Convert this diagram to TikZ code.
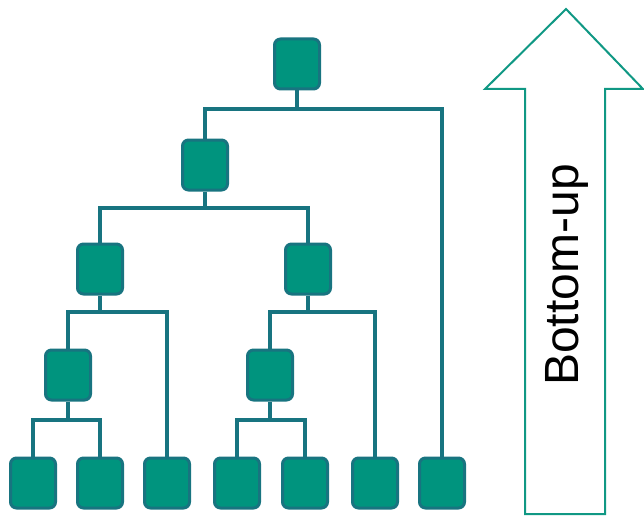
\documentclass[tikz,border=0pt]{standalone}
\usepackage{fontspec}
\setsansfont{Liberation Sans}
\usepackage{tikz}
\definecolor{boxfill}{RGB}{0,148,126}
\definecolor{linkcol}{RGB}{24,116,128}
\definecolor{arrowcol}{RGB}{16,152,132}

\begin{document}
\begin{tikzpicture}[x=1pt,y=-1pt,
	box/.style={draw=linkcol, line width=3pt, fill=boxfill, rounded corners=6pt, minimum width=45pt, minimum height=50pt, inner sep=0pt},
	link/.style={draw=linkcol, line width=3.5pt}]
			\useasboundingbox (0,0) rectangle (644,516);
			
			% inner nodes
			\node[box] (root) at (297,64) {};
			\node[box] (n1) at (205,165) {};
			\node[box] (n2) at (100,269) {};
			\node[box] (n3) at (308,269) {};
			\node[box] (n4) at (68,375) {};
			\node[box] (n5) at (270,375) {};
			
			% leaves
			\node[box] (leafa) at (33,483) {};
			\node[box] (leafb) at (100,483) {};
			\node[box] (leafc) at (167,483) {};
			\node[box] (leafd) at (237,483) {};
			\node[box] (leafe) at (305,483) {};
			\node[box] (leaff) at (375,483) {};
			\node[box] (leafg) at (442,483) {};
			
			% bars
			\coordinate (b0) at (297,109);
			\coordinate (b1) at (205,208);
			\coordinate (b2) at (100,312);
			\coordinate (b3) at (308,312);
			\coordinate (b4) at (68,420);
			\coordinate (b5) at (270,420);
			
			\draw[link] (root) -- (b0) -| (n1);
			\draw[link] (b0) -| (leafg);
			\draw[link] (n1) -- (b1) -| (n2);
			\draw[link] (b1) -| (n3);
			\draw[link] (n2) -- (b2) -| (n4);
			\draw[link] (b2) -| (leafc);
			\draw[link] (n3) -- (b3) -| (n5);
			\draw[link] (b3) -| (leaff);
			\draw[link] (n4) -- (b4) -| (leafa);
			\draw[link] (b4) -| (leafb);
			\draw[link] (n5) -- (b5) -| (leafd);
			\draw[link] (b5) -| (leafe);
			
			% arrow
			\draw[arrowcol, line width=2pt, fill=white, line join=miter] (566,9) -- (643,89) -- (605,89) -- (605,514) -- (525,514) -- (525,89) -- (485,89) -- cycle;
			\node[rotate=90, anchor=base, inner sep=0pt, font=\sffamily\fontsize{48}{50}\selectfont] (updown) at (578,275) {Bottom-up};
		\end{tikzpicture}
\end{document}
